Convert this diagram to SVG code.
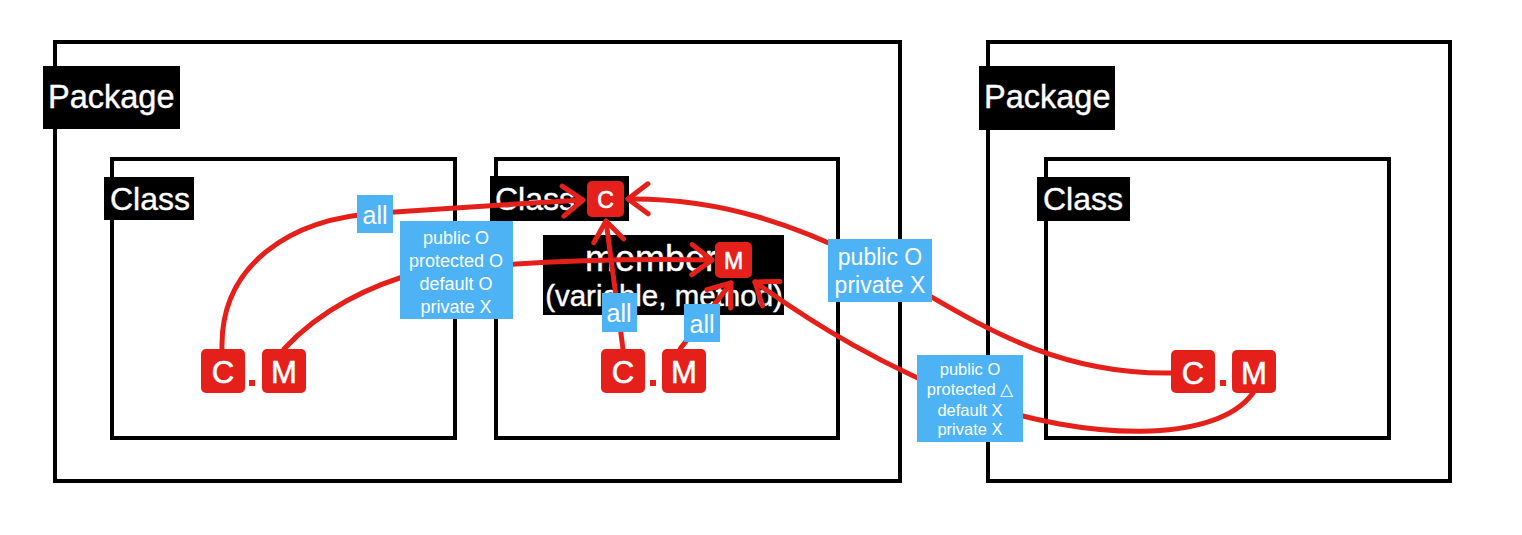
<svg xmlns="http://www.w3.org/2000/svg" width="1522" height="535" viewBox="0 0 1522 535">
<style>
.box{fill:none;stroke:#000;stroke-width:4}
.tag{fill:#000}
.tagt{fill:#fff;stroke:#fff;stroke-width:0.4;font-family:"Liberation Sans",Arial,sans-serif}
.con{fill:none;stroke:#E5201B;stroke-width:5;stroke-linecap:round}
.lbl{fill:#4DB3F5}
.lt{fill:#fff;font-family:"Liberation Sans",Arial,sans-serif;text-anchor:middle}
.nd{fill:#E5201B}
.nt{fill:#fff;stroke:#fff;stroke-width:0.6;font-family:"Liberation Sans",Arial,sans-serif;text-anchor:middle}
</style>
<defs>
<marker id="ah" markerUnits="userSpaceOnUse" viewBox="0 0 26 36" markerWidth="26" markerHeight="36" refX="23" refY="18" orient="auto">
<path d="M3,3 L23,18 L3,33" fill="none" stroke="#E5201B" stroke-width="5" stroke-linecap="round" stroke-linejoin="round"/>
</marker>
</defs>
<rect width="1522" height="535" fill="#fff"/>
<g id="package1">
<rect class="box" x="55" y="42" width="845" height="439"/>
<rect class="tag" x="43" y="66" width="137" height="63"/>
<text class="tagt" x="48" y="108" font-size="32.5">Package</text>
</g>
<g id="package2">
<rect class="box" x="988" y="42" width="462" height="439"/>
<rect class="tag" x="979" y="66" width="136" height="64"/>
<text class="tagt" x="984" y="108" font-size="32.5">Package</text>
</g>
<g id="class1">
<rect class="box" x="112" y="159" width="343" height="279"/>
<rect class="tag" x="104" y="177" width="90" height="43"/>
<text class="tagt" x="110" y="210" font-size="32">Class</text>
</g>
<g id="class2">
<rect class="box" x="496" y="159" width="342" height="279"/>
<rect class="tag" x="490" y="176" width="139" height="45"/>
<text class="tagt" x="495" y="210" font-size="32">Class</text>
</g>
<g id="class3">
<rect class="box" x="1046" y="159" width="343" height="279"/>
<rect class="tag" x="1037" y="177" width="93" height="44"/>
<text class="tagt" x="1043" y="210" font-size="32">Class</text>
</g>
<g id="member">
<rect class="tag" x="543" y="235" width="241" height="80"/>
<text class="tagt" x="585" y="271" font-size="36">member</text>
<text class="tagt" x="664" y="306" font-size="29.5" text-anchor="middle">(variable, method)</text>
</g>
<g id="connectors">
<path class="con" d="M222,349 C220,265 290,218 380,213 Q480,206 583,200" marker-end="url(#ah)"/>
<path class="con" d="M284,349 C320,310 370,285 420,272 Q560,257 712,260" marker-end="url(#ah)"/>
<path class="con" d="M623,349 L606,221" marker-end="url(#ah)"/>
<path class="con" d="M680,349 L731,283" marker-end="url(#ah)"/>
<path class="con" d="M1171,373 C1040,375 960,310 880,268 C800,225 720,198 628,199" marker-end="url(#ah)"/>
<path class="con" d="M1253,393 C1215,445 1085,440 975,402 C885,368 815,325 755,282" marker-end="url(#ah)"/>
</g>
<g id="label-all-1">
<rect class="lbl" x="357" y="195" width="36" height="38"/>
<text class="lt" x="375" y="224" font-size="25">all</text>
</g>
<g id="label-same-package">
<rect class="lbl" x="400" y="221" width="113" height="98"/>
<text class="lt" x="456" y="244" font-size="18">public O</text>
<text class="lt" x="456" y="267" font-size="18">protected O</text>
<text class="lt" x="456" y="290" font-size="18">default O</text>
<text class="lt" x="456" y="313" font-size="18">private X</text>
</g>
<g id="label-all-2">
<rect class="lbl" x="602" y="293" width="35" height="39"/>
<text class="lt" x="619" y="322" font-size="25">all</text>
</g>
<g id="label-all-3">
<rect class="lbl" x="684" y="304" width="36" height="38"/>
<text class="lt" x="702" y="333" font-size="25">all</text>
</g>
<g id="label-other-class">
<rect class="lbl" x="828" y="239" width="104" height="63"/>
<text class="lt" x="880" y="265" font-size="23">public O</text>
<text class="lt" x="880" y="293" font-size="23">private X</text>
</g>
<g id="label-other-package">
<rect class="lbl" x="917" y="355" width="106" height="87"/>
<text class="lt" x="970" y="375" font-size="16.5">public O</text>
<text class="lt" x="970" y="395" font-size="16.5">protected △</text>
<text class="lt" x="970" y="416" font-size="16.5">default X</text>
<text class="lt" x="970" y="435" font-size="16.5">private X</text>
</g>
<g id="node-c-target">
<rect class="nd" x="587" y="181" width="37" height="36" rx="5"/>
<text class="nt" x="605.5" y="208" font-size="23">C</text>
</g>
<g id="node-m-target">
<rect class="nd" x="715" y="242" width="37" height="36" rx="5"/>
<text class="nt" x="733.5" y="269" font-size="23">M</text>
</g>
<g id="cm-class1">
<rect class="nd" x="201" y="349" width="44" height="44" rx="5"/>
<text class="nt" x="223" y="383" font-size="31">C</text>
<rect class="nd" x="249" y="380" width="6" height="6"/>
<rect class="nd" x="262" y="349" width="44" height="44" rx="5"/>
<text class="nt" x="284" y="383" font-size="31">M</text>
</g>
<g id="cm-class2">
<rect class="nd" x="601" y="349" width="44" height="44" rx="5"/>
<text class="nt" x="623" y="383" font-size="31">C</text>
<rect class="nd" x="650" y="380" width="6" height="6"/>
<rect class="nd" x="662" y="349" width="44" height="44" rx="5"/>
<text class="nt" x="684" y="383" font-size="31">M</text>
</g>
<g id="cm-class3">
<rect class="nd" x="1171" y="350" width="44" height="43" rx="5"/>
<text class="nt" x="1193" y="384" font-size="31">C</text>
<rect class="nd" x="1220" y="380" width="6" height="6"/>
<rect class="nd" x="1232" y="350" width="44" height="43" rx="5"/>
<text class="nt" x="1254" y="384" font-size="31">M</text>
</g>
</svg>
